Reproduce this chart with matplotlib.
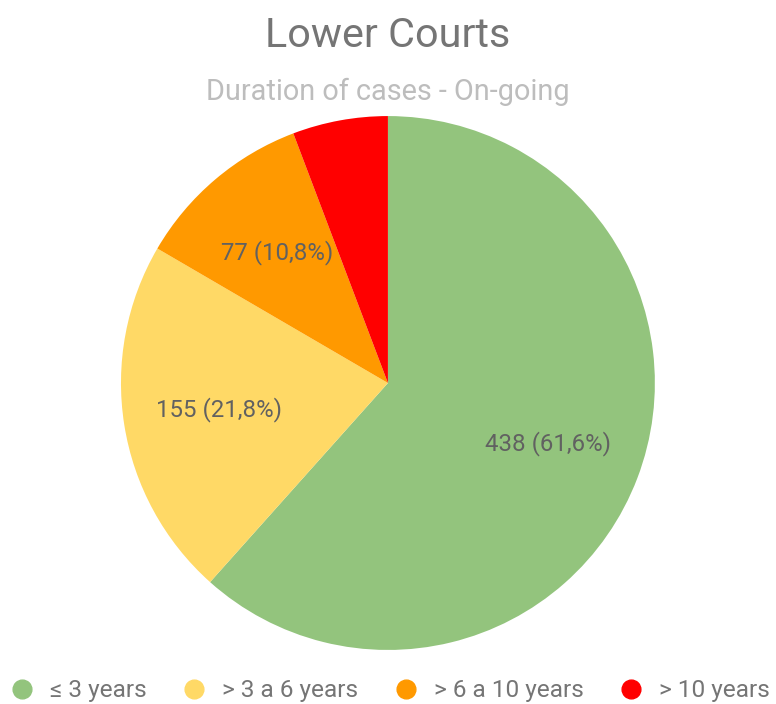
import matplotlib
matplotlib.use("Agg")
import matplotlib.pyplot as plt
from matplotlib.lines import Line2D

plt.rcParams["font.family"] = ["Roboto", "DejaVu Sans"]

# Data
categories = ["≤ 3 years", "> 3 a 6 years", "> 6 a 10 years", "> 10 years"]
counts = [438, 155, 77, 41]
colors = ["#93c47d", "#ffd966", "#ff9900", "#ff0000"]

total = sum(counts)


def make_label(pct):
    if pct < 6:
        return ""
    n = int(round(pct * total / 100.0))
    return f"{n} ({pct:.1f}%)".replace(".", ",")


fig = plt.figure(figsize=(7.76, 7.04), dpi=100)
ax = fig.add_axes([0.1559, 0.0767, 0.688, 0.7585])

wedges, texts, autotexts = ax.pie(
    counts,
    colors=colors,
    startangle=90,
    counterclock=False,
    autopct=make_label,
    pctdistance=0.64,
    wedgeprops=dict(linewidth=0),
    textprops=dict(color="#616161", fontsize=17.3),
)
ax.set_xlim(-1, 1)
ax.set_ylim(-1, 1)
ax.set_aspect("equal")
ax.axis("off")

# Titles
fig.text(0.5, 1 - 47 / 704, "Lower Courts", ha="center", va="baseline",
         fontsize=29.8, color="#757575")
fig.text(0.5, 1 - 100 / 704, "Duration of cases - On-going", ha="center",
         va="baseline", fontsize=20.8, color="#bdbdbd")

# Legend
handles = [
    Line2D([], [], marker="o", linestyle="", markersize=13.5,
           markerfacecolor=c, markeredgecolor=c)
    for c in colors
]
fig.legend(
    handles, categories,
    loc="center", bbox_to_anchor=(0.504, 1 - 691 / 704),
    ncol=4, frameon=False, fontsize=17.6, labelcolor="#757575",
    handlelength=0.8, handletextpad=0.74, columnspacing=1.55,
)

fig.savefig("out.png", dpi=100)
